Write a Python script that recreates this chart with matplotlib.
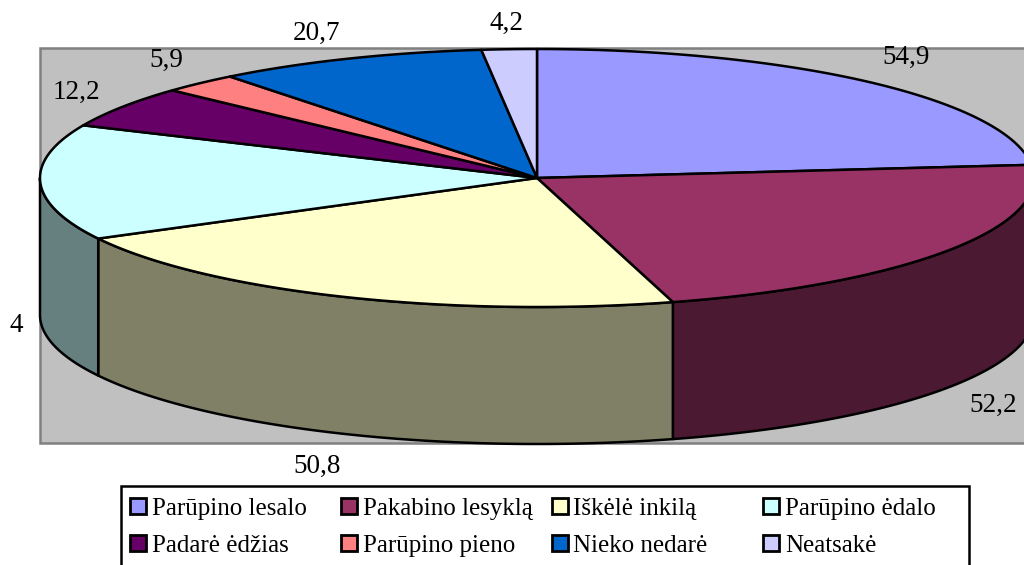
import numpy as np
import matplotlib
matplotlib.use('Agg')
import matplotlib.pyplot as plt
from matplotlib.patches import Polygon, Rectangle

plt.rcParams['font.family'] = ['Liberation Serif', 'DejaVu Sans']

categories = ['Parūpino lesalo', 'Pakabino lesyklą', 'Iškėlė inkilą', 'Parūpino ėdalo',
              'Padarė ėdžias', 'Parūpino pieno', 'Nieko nedarė', 'Neatsakė']
values = [54.9, 52.2, 50.8, 34, 12.2, 5.9, 20.7, 4.2]
# the first digit of the fourth label is cut off at the left edge in the picture
value_labels = ['54,9', '52,2', '50,8', '4', '12,2', '5,9', '20,7', '4,2']
colors = ['#9999FF', '#993366', '#FFFFCC', '#CCFFFF', '#660066', '#FF8080', '#0066CC', '#CCCCFF']
side_colors = ['#4C4C80', '#4C1933', '#808066', '#668080', '#330033', '#804040', '#003366', '#666680']

label_pos = [(906, 64), (993, 412), (317, 473), (16, 332), (76, 99), (166, 67), (317, 40), (506, 30)]

CX, CY, RX, RY, DEPTH = 537, 178, 497, 129, 137


def rim(theta, drop=0):
    # theta in degrees, clockwise from the top of the ellipse
    t = np.radians(theta)
    return np.column_stack([CX + RX * np.sin(t), CY - RY * np.cos(t) + drop])


fig = plt.figure(figsize=(10.24, 5.65), dpi=100)
ax = fig.add_axes([0, 0, 1, 1])
ax.set_xlim(0, 1024)
ax.set_ylim(565, 0)
ax.axis('off')

ax.add_patch(Rectangle((40, 48), 1100, 395, facecolor='#C0C0C0', edgecolor='#808080', linewidth=1.8))

edges = np.concatenate([[0], np.cumsum(values)]) / sum(values) * 360

# side walls, only the front half of the ellipse shows
for i in range(len(values)):
    a, b = max(edges[i], 90), min(edges[i + 1], 270)
    if a >= b:
        continue
    th = np.linspace(a, b, 120)
    pts = np.vstack([rim(th), rim(th[::-1], DEPTH)])
    ax.add_patch(Polygon(pts, closed=True, facecolor=side_colors[i], edgecolor='black',
                         linewidth=1.8, joinstyle='round'))

# top of the pie
for i in range(len(values)):
    th = np.linspace(edges[i], edges[i + 1], 200)
    pts = np.vstack([[CX, CY], rim(th)])
    ax.add_patch(Polygon(pts, closed=True, facecolor=colors[i], edgecolor='black',
                         linewidth=1.8, joinstyle='round'))

for txt, (x, y) in zip(value_labels, label_pos):
    ax.text(x, y, txt, fontsize=19.5, ha='center', va='baseline', color='black')

# legend box runs past the bottom of the image
ax.add_patch(Rectangle((121, 486), 848, 120, facecolor='white', edgecolor='black', linewidth=1.8))
col_x = [130, 341, 552, 763]
text_x = [152, 363, 573, 785]
row_y = [515, 552]
for i, name in enumerate(categories):
    c = i % 4
    y = row_y[i // 4]
    ax.add_patch(Rectangle((col_x[c], y - 17), 16, 16, facecolor=colors[i], edgecolor='black', linewidth=2))
    ax.text(text_x[c], y, name, fontsize=18, ha='left', va='baseline', color='black')

fig.savefig('out.png', dpi=100)
